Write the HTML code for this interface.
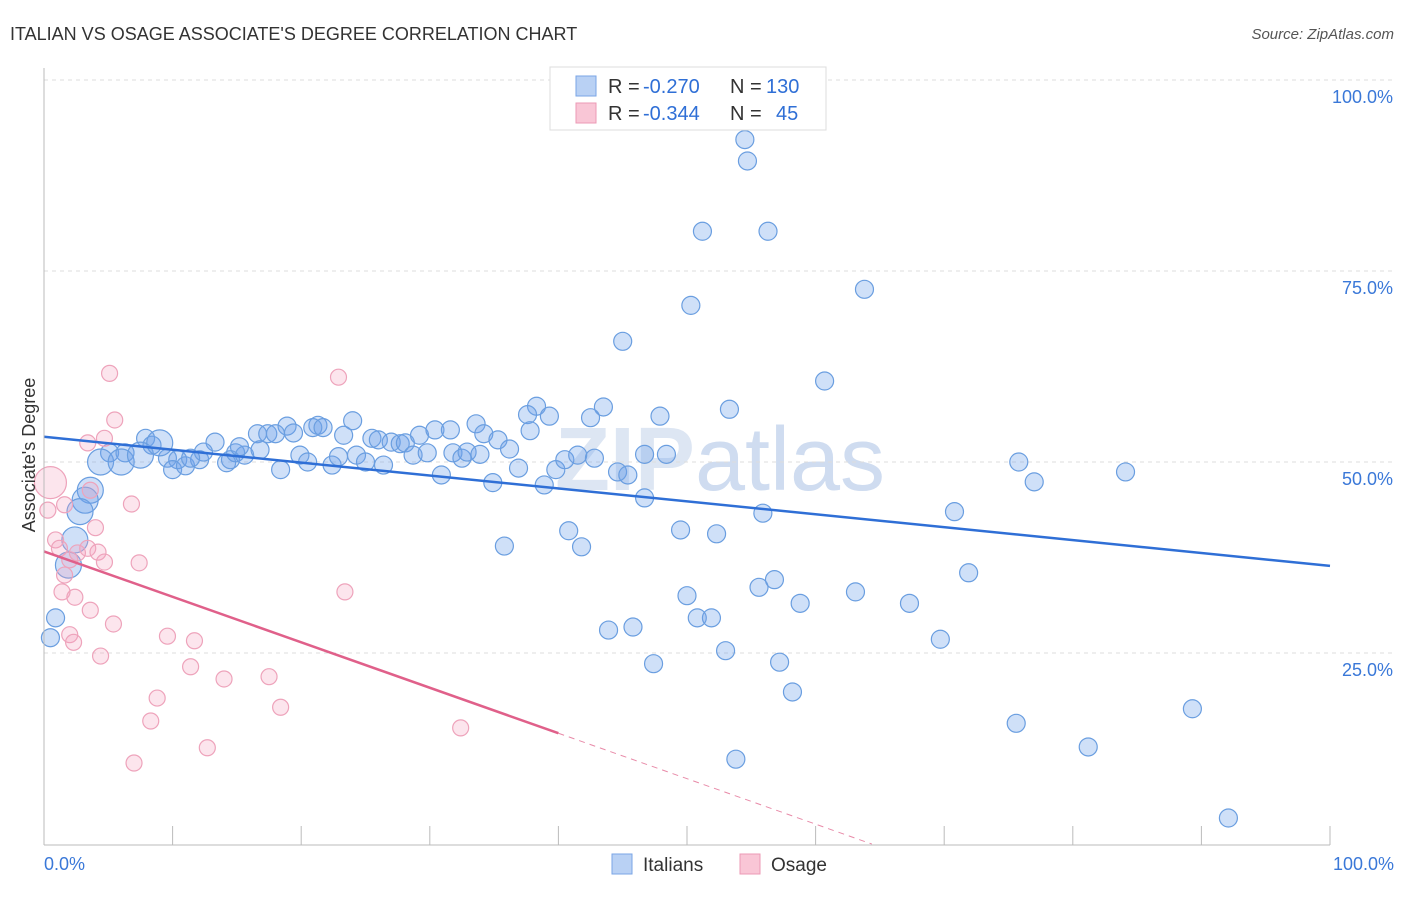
<!DOCTYPE html>
<html><head><meta charset="utf-8"><style>
body{margin:0;background:#fff;font-family:"Liberation Sans",sans-serif}
</style></head><body>
<svg id="c" width="1406" height="892" xmlns="http://www.w3.org/2000/svg">
<text x="10" y="40" font-size="18" fill="#333">ITALIAN VS OSAGE ASSOCIATE'S DEGREE CORRELATION CHART</text>
<text x="1394" y="39" font-size="15" fill="#555" font-style="italic" text-anchor="end">Source: ZipAtlas.com</text>
<text x="720" y="490" font-size="90" fill="#dde6f3" text-anchor="middle" font-weight="bold">ZIP<tspan font-weight="normal" fill="#cfdcf0">atlas</tspan></text>
<g id="grid"></g><g id="marks"></g>
<line x1="44" y1="68" x2="44" y2="845" stroke="#bbb"/>
<line x1="44" y1="845" x2="1330" y2="845" stroke="#bbb"/>
<text x="35" y="455" font-size="18" fill="#333" text-anchor="middle" transform="rotate(-90 35 455)">Associate's Degree</text>
<text x="44" y="870" font-size="18" fill="#3a78d8">0.0%</text>
<text x="1394" y="870" font-size="18" fill="#3a78d8" text-anchor="end">100.0%</text>
<g font-size="20">
<rect x="550" y="67" width="276" height="63" fill="#fff" stroke="#ddd"/>
<rect x="576" y="76" width="20" height="20" fill="#b9d1f4" stroke="#7aa5e6"/>
<rect x="576" y="103" width="20" height="20" fill="#f9c6d6" stroke="#ec9ab5"/>
<text x="608" y="93" fill="#333">R =</text><text x="643" y="93" fill="#2f6fd6">-0.270</text>
<text x="730" y="93" fill="#333">N =</text><text x="766" y="93" fill="#2f6fd6">130</text>
<text x="608" y="120" fill="#333">R =</text><text x="643" y="120" fill="#2f6fd6">-0.344</text>
<text x="730" y="120" fill="#333">N =</text><text x="776" y="120" fill="#2f6fd6">45</text>
</g>
<g>
<rect x="612" y="854" width="20" height="20" fill="#b9d1f4" stroke="#7aa5e6"/>
<text x="643" y="871" font-size="19" fill="#333">Italians</text>
<rect x="740" y="854" width="20" height="20" fill="#f9c6d6" stroke="#ec9ab5"/>
<text x="771" y="871" font-size="19" fill="#333">Osage</text>
</g>
</svg>
<script>
const blueX=[54.5,54.7,51.2,56.3,63.8,50.3,45.0,60.7,53.3,43.5,47.9,38.3,37.6,39.3,42.5,33.6,24.0,21.3,18.9,20.9,21.7,16.6,13.3,7.9,8.4,5.1,6.3,4.4,6.0,9.6,10.4,10.0,11.0,12.1,12.4,14.2,14.5,14.9,15.6,16.8,17.4,18.0,19.4,19.9,20.5,22.4,22.9,23.3,24.3,25.0,25.5,26.4,26.0,27.0,27.7,28.1,28.7,29.2,29.8,30.4,30.9,31.6,31.8,32.5,32.9,33.9,34.2,34.9,35.3,36.2,36.9,37.8,38.9,39.8,40.5,41.5,42.8,44.6,45.4,46.7,48.4,46.7,40.8,41.8,35.8,43.9,45.8,47.4,49.5,52.3,50.0,50.8,51.9,53.0,53.8,55.6,56.8,55.9,57.2,58.2,58.8,63.1,67.3,69.7,70.8,71.9,75.6,75.8,77.0,81.2,84.1,89.3,92.1,0.5,0.9,1.9,2.4,3.6,3.2,2.8,7.5,9.0,11.4,15.2,18.4];
const blueY=[92.2,89.4,80.2,80.2,72.6,70.5,65.8,60.6,56.9,57.2,56.0,57.3,56.2,56.0,55.8,55.0,55.4,54.8,54.7,54.5,54.5,53.7,52.6,53.1,52.2,51.2,51.2,50.0,50.0,50.5,50.3,49.0,49.5,50.3,51.3,49.9,50.3,51.2,50.9,51.6,53.7,53.7,53.8,50.9,50.0,49.6,50.7,53.5,50.9,50.0,53.1,49.6,52.9,52.6,52.4,52.5,50.9,53.5,51.2,54.2,48.3,54.2,51.2,50.5,51.3,51.0,53.7,47.3,52.9,51.7,49.2,54.1,47.0,49.0,50.3,50.9,50.5,48.7,48.3,51.0,51.0,45.3,41.0,38.9,39.0,28.0,28.4,23.6,41.1,40.6,32.5,29.6,29.6,25.3,11.1,33.6,34.6,43.3,23.8,19.9,31.5,33.0,31.5,26.8,43.5,35.5,15.8,50.0,47.4,12.7,48.7,17.7,3.4,27.0,29.6,36.5,39.8,46.3,45.0,43.5,50.9,52.5,50.5,52.0,49.0];
const pinkX=[0.5,0.3,0.9,1.2,1.6,1.4,2.0,2.4,2.6,3.4,4.0,3.6,1.6,5.1,5.5,3.4,4.7,6.8,4.2,4.7,7.4,3.6,5.4,2.0,2.3,4.4,9.6,11.7,11.4,8.8,8.3,14.0,17.5,18.4,12.7,7.0,22.9,23.4,32.4];
const pinkY=[47.3,43.7,39.8,38.7,35.2,33.0,37.2,32.3,38.1,38.7,41.4,46.3,44.4,61.6,55.5,52.5,53.1,44.5,38.2,36.9,36.8,30.6,28.8,27.4,26.4,24.6,27.2,26.6,23.2,19.1,16.1,21.6,21.9,17.9,12.6,10.6,61.1,33.0,15.2];
const blueTrend=[53.3,36.4];
const pinkTrend=[38.3,-0.595];
const yTicks=[25,50,75,100];
const yTickLabels=["25.0%","50.0%","75.0%","100.0%"];
const xTicks=[0,10,20,30,40,50,60,70,80,90,100];

const NS="http://www.w3.org/2000/svg";
const sx=v=>44+v*12.86, sy=v=>844-v*7.64;
function mk(t,a,p){const e=document.createElementNS(NS,t);for(const k in a)e.setAttribute(k,a[k]);p.appendChild(e);return e;}
const g=document.getElementById('grid'), m=document.getElementById('marks');
yTicks.forEach((t,i)=>{
 const l=mk('line',{x1:44,x2:1394,y1:sy(t),y2:sy(t),stroke:'#ddd','stroke-dasharray':'4,4'},g);
 
 
 const tx=mk('text',{x:1393,y:sy(t)+23,'font-size':18,fill:'#3a78d8','text-anchor':'end'},g);
 tx.textContent=yTickLabels[i];
 
 
});
xTicks.forEach(t=>{
 const l=mk('line',{x1:sx(t),x2:sx(t),y1:826,y2:845,stroke:'#bbb'},g);
 
 
});
const bigBlue=new Set([115,116,117,118,119,120,121,27,28]);
blueX.forEach((x,i)=>{
 const c=mk('circle',{cx:sx(x),cy:sy(blueY[i]),r:bigBlue.has(i)?13:9,fill:'rgba(110,160,235,0.33)',stroke:'#6a9ee0','stroke-width':1.2},m);
 
 
});
pinkX.forEach((x,i)=>{
 const c=mk('circle',{cx:sx(x),cy:sy(pinkY[i]),r:i===0?16:8,fill:'rgba(245,160,190,0.28)',stroke:'#eea3bb','stroke-width':1.2},m);
 
 
});
const bl=mk('line',{x1:sx(0),y1:sy(blueTrend[0]),x2:sx(100),y2:sy(blueTrend[1]),stroke:'#2f6fd6','stroke-width':2.5},m);


const pEnd=40, pZero=-pinkTrend[0]/pinkTrend[1];
const pl=mk('line',{x1:sx(0),y1:sy(pinkTrend[0]),x2:sx(pEnd),y2:sy(pinkTrend[0]+pinkTrend[1]*pEnd),stroke:'#e0608a','stroke-width':2.5},m);


const pd=mk('line',{x1:sx(pEnd),y1:sy(pinkTrend[0]+pinkTrend[1]*pEnd),x2:sx(pZero),y2:sy(0),stroke:'#e88aa8','stroke-width':1,'stroke-dasharray':'6,5'},m);


</script>
</body></html>
